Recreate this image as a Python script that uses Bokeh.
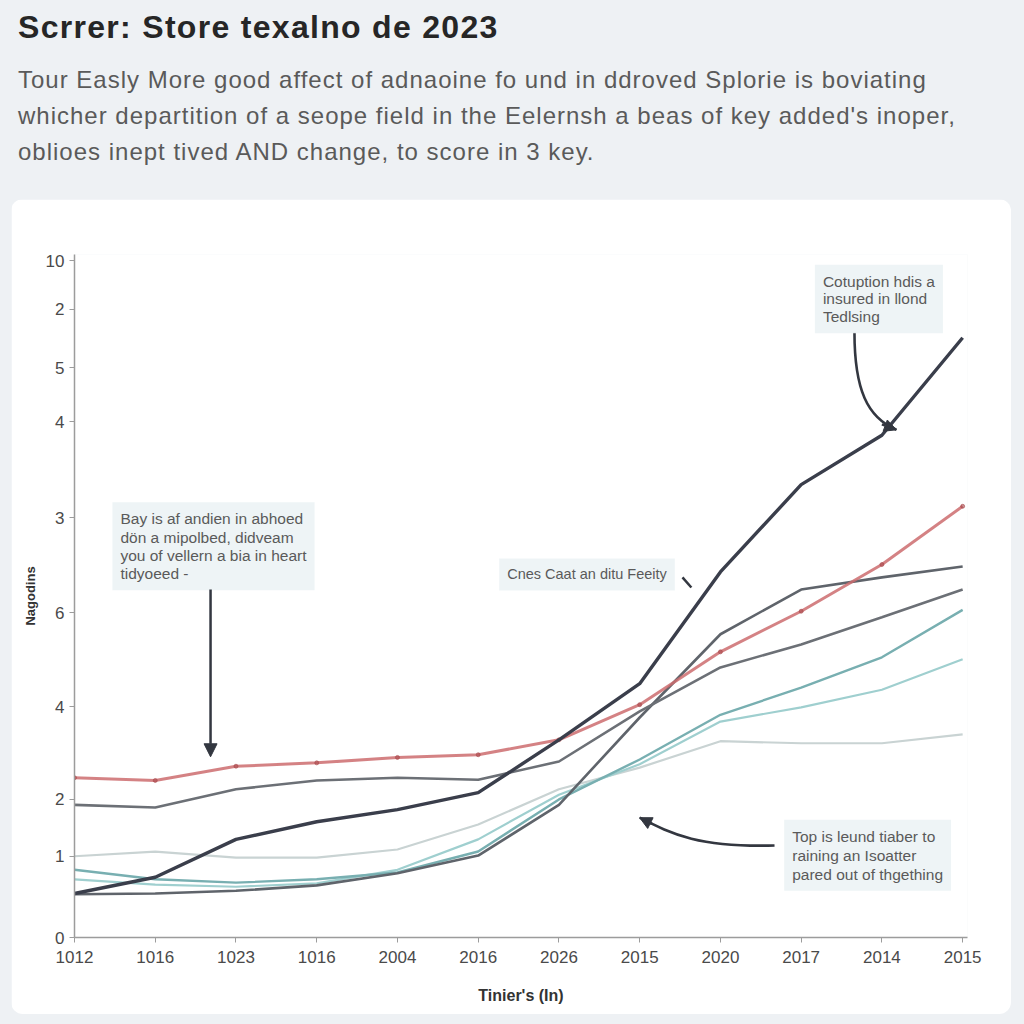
from bokeh.plotting import figure
from bokeh.layouts import column
from bokeh.models import (Div, Range1d, FixedTicker, Label, Arrow, NormalHead)
from bokeh.embed import file_html
from bokeh.resources import INLINE

# ---------------- data ----------------
x_labels = ["1012", "1016", "1023", "1016", "2004", "2016", "2026",
            "2015", "2020", "2017", "2014", "2015"]
x_pos = list(range(len(x_labels)))

y_tick_values = [0, 120, 204, 341, 480, 620, 762, 842, 928, 1000]
y_tick_labels = ["0", "1", "2", "4", "6", "3", "4", "5", "2", "10"]

series_navy = [65, 89, 145, 171, 189, 214, 292, 375, 540, 669, 742, 886]
series_red = [236, 232, 253, 258, 266, 270, 292, 344, 422, 482, 551, 637]
series_gray = [196, 192, 219, 232, 236, 233, 260, 334, 399, 433, 473, 514]
series_slate = [64, 65, 69, 77, 95, 121, 196, 325, 448, 514, 532, 548]
series_teal = [100, 86, 81, 86, 96, 127, 204, 263, 329, 369, 414, 484]
series_aqua = [86, 78, 75, 80, 100, 145, 211, 256, 319, 340, 366, 411]
series_mist = [120, 127, 118, 118, 130, 167, 219, 251, 290, 287, 287, 300]

title_text = "Scrrer: Store texalno de 2023"
subtitle_lines = [
    "Tour Easly More good affect of adnaoine fo und in ddroved Splorie is boviating",
    "whicher departition of a seope field in the Eelernsh a beas of key added's inoper,",
    "oblioes inept tived AND change, to score in 3 key.",
]
x_title = "Tinier's (In)"
y_title = "Nagodins"
note_left = "Bay is af andien in abhoed\ndön a mipolbed, didveam\nyou of vellern a bia in heart\ntidyoeed -"
note_mid = "Cnes Caat an ditu Feeity"
note_top = "Cotuption hdis a\ninsured in llond\nTedlsing"
note_bottom = "Top is leund tiaber to\nraining an Isoatter\npared out of thgething"

FONT = "Liberation Sans"

# ---------------- heading ----------------
head_html = (
    f'<div style="font-family:\'{FONT}\',Arial,sans-serif;padding-left:13px;padding-top:4px;">'
    f'<div style="font-size:32px;line-height:36px;font-weight:bold;color:#262626;letter-spacing:1.3px;white-space:nowrap;">{title_text}</div>'
    f'<div style="font-size:24px;line-height:36px;color:#5a5a5a;margin-top:17px;letter-spacing:1px;white-space:nowrap;">'
    + "<br>".join(subtitle_lines) +
    '</div></div>'
)
head = Div(text=head_html, width=1008, height=189,
           styles={"background-color": "#eef1f4"})

# ---------------- chart ----------------
p = figure(width=1000, height=815, output_backend="svg", toolbar_location=None,
           x_range=Range1d(0, 11.06), y_range=Range1d(0, 1009),
           min_border_left=63, min_border_top=55, min_border_right=44,
           min_border_bottom=77)
p.margin = (0, 0, 0, 11)
p.styles = {"border-radius": "12px", "overflow": "hidden"}
p.border_fill_color = "white"
p.background_fill_color = "white"
p.outline_line_color = None
p.xgrid.grid_line_color = None
p.ygrid.grid_line_color = None

for ax in (p.xaxis[0], p.yaxis[0]):
    ax.axis_line_color = "#9c9c9c"
    ax.axis_line_width = 1.5
    ax.major_tick_line_color = "#9c9c9c"
    ax.major_tick_out = 5
    ax.major_tick_in = 0
    ax.minor_tick_line_color = None
    ax.major_label_text_font = FONT
    ax.major_label_text_font_size = "17px"
    ax.major_label_text_color = "#4a4a4a"
    ax.axis_label_text_font = FONT
    ax.axis_label_text_font_style = "bold"
    ax.axis_label_text_color = "#333333"

p.xaxis.ticker = FixedTicker(ticks=x_pos)
p.xaxis.major_label_overrides = {i: lab for i, lab in zip(x_pos, x_labels)}
p.xaxis.major_label_standoff = 8
p.xaxis.axis_label = x_title
p.xaxis.axis_label_text_font_size = "16px"
p.xaxis.axis_label_standoff = 21

p.yaxis.ticker = FixedTicker(ticks=y_tick_values)
p.yaxis.major_label_overrides = {v: lab for v, lab in zip(y_tick_values, y_tick_labels)}
p.yaxis.axis_label = y_title
p.yaxis.axis_label_text_font_size = "13px"
p.yaxis.axis_label_standoff = 5

# lines (lightest first)
p.line(x_pos, series_mist, line_color="#c9d3d3", line_width=2.2)
p.line(x_pos, series_aqua, line_color="#9fcfcf", line_width=2.2)
p.line(x_pos, series_teal, line_color="#78afb1", line_width=2.4)
p.line(x_pos, series_slate, line_color="#5f646b", line_width=2.6)
p.line(x_pos, series_gray, line_color="#6c7076", line_width=2.6)
p.line(x_pos, series_red, line_color="#cd6c6f", line_width=3, line_alpha=0.85)
p.scatter(x_pos, series_red, size=4, color="#a8474b", alpha=0.6)
p.line(x_pos, series_navy, line_color="#3a3e4b", line_width=3.4)

# ---------------- annotations ----------------
def note(x, y, txt, size, lh):
    lab = Label(x=x, y=y, text=txt, anchor="top_left",
                text_font=FONT, text_font_size=size, text_color="#5a5a5a",
                text_line_height=lh, padding=8,
                background_fill_color="#edf3f6", background_fill_alpha=0.95)
    p.add_layout(lab)

note(0.47, 643, note_left, "15.5px", 1.08)
note(5.26, 560, note_mid, "14.5px", 1.0)
note(9.17, 994, note_top, "15.5px", 1.05)
note(8.79, 174, note_bottom, "15.5px", 1.12)

AC = "#333740"
# straight arrow (left note)
p.add_layout(Arrow(x_start=1.685, y_start=514, x_end=1.685, y_end=267,
                   line_color=AC, line_width=2.5,
                   end=NormalHead(size=13, fill_color=AC, line_color=AC)))
# leader for middle note
p.segment(x0=[7.53], y0=[532], x1=[7.64], y1=[517], line_color=AC, line_width=2.5)

# curved arrow (top note)
p.bezier(x0=[9.66], y0=[894], x1=[10.18], y1=[750],
         cx0=[9.66], cy0=[809], cx1=[9.82], cy1=[768],
         line_color=AC, line_width=2.6)
p.add_layout(Arrow(x_start=10.0, y_start=758, x_end=10.18, y_end=750,
                   line_color=AC, line_width=2.6,
                   end=NormalHead(size=12, fill_color=AC, line_color=AC)))

# curved arrow (bottom note)
p.bezier(x0=[8.67], y0=[136], x1=[7.0], y1=[177],
         cx0=[7.74], cy0=[133], cx1=[7.41], cy1=[152],
         line_color=AC, line_width=2.6)
p.add_layout(Arrow(x_start=7.15, y_start=168, x_end=7.0, y_end=177,
                   line_color=AC, line_width=2.6,
                   end=NormalHead(size=12, fill_color=AC, line_color=AC)))

layout = column(head, p, styles={"background-color": "#eef1f4"})

html = file_html(layout, INLINE)
html = html.replace("<body>", '<body style="background-color:#eef1f4;">')
open("out.html", "w").write(html)
